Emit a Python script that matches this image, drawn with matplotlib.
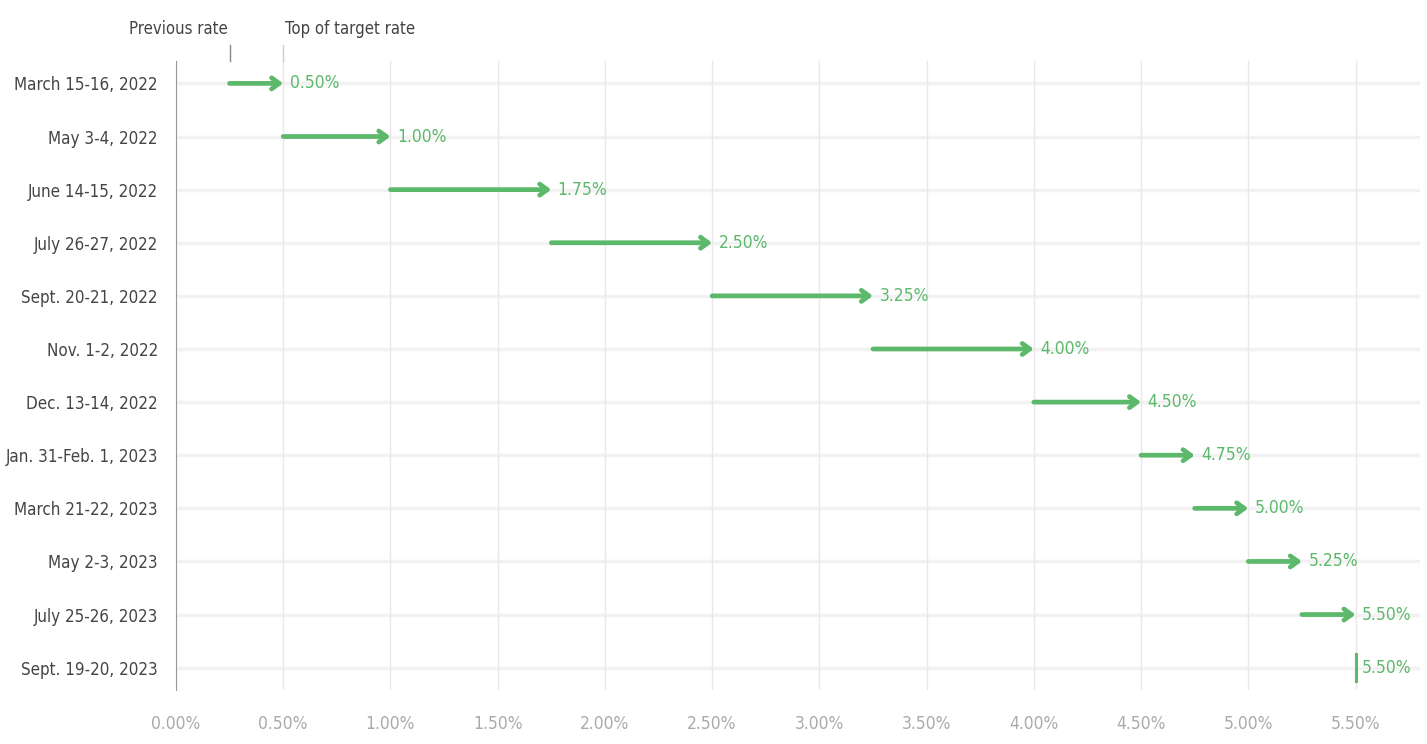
import matplotlib
matplotlib.use("Agg")
import matplotlib.pyplot as plt

# meeting dates and rate moves (top of target range, %)
meetings = ["March 15-16, 2022", "May 3-4, 2022", "June 14-15, 2022", "July 26-27, 2022",
            "Sept. 20-21, 2022", "Nov. 1-2, 2022", "Dec. 13-14, 2022", "Jan. 31-Feb. 1, 2023",
            "March 21-22, 2023", "May 2-3, 2023", "July 25-26, 2023", "Sept. 19-20, 2023"]
prev_rate = [0.25, 0.50, 1.00, 1.75, 2.50, 3.25, 4.00, 4.50, 4.75, 5.00, 5.25, 5.50]
top_rate = [0.50, 1.00, 1.75, 2.50, 3.25, 4.00, 4.50, 4.75, 5.00, 5.25, 5.50, 5.50]
xticks = [0, 0.5, 1.0, 1.5, 2.0, 2.5, 3.0, 3.5, 4.0, 4.5, 5.0, 5.5]

plt.rcParams['font.family'] = ['DejaVu Sans']
plt.rcParams['font.stretch'] = 'condensed'
green = '#5cb86a'

fig = plt.figure(figsize=(14.27, 7.44), dpi=100)
ax = fig.add_axes([0.1233, 0.0726, 0.8717, 0.846])

n = len(meetings)
for i in range(n):
    ax.axhline(i, color='#f2f2f2', lw=2.5, zorder=0)
for x in xticks:
    ax.axvline(x, color='#e8e8e8', lw=1, zorder=0)

for i, (p, t) in enumerate(zip(prev_rate, top_rate)):
    if t > p:
        ax.annotate('', xy=(t, i), xytext=(p, i),
                    arrowprops=dict(arrowstyle='->,head_length=0.55,head_width=0.4',
                                    color=green, lw=3.4, shrinkA=0, shrinkB=0))
    else:
        ax.plot([t, t], [i - 0.25, i + 0.25], color=green, lw=2.2)
    ax.text(t + 0.03, i, f"{t:.2f}%", color=green, fontsize=12.5, va='center', ha='left')

# header key
ax.plot([prev_rate[0], prev_rate[0]], [-0.72, -0.43], color='#888888', lw=1, clip_on=False)
ax.plot([top_rate[0], top_rate[0]], [-0.72, -0.43], color='#cccccc', lw=1, clip_on=False)
ax.text(prev_rate[0] - 0.01, -1.03, "Previous rate", ha='right', va='center', fontsize=12, color='#444444')
ax.text(top_rate[0] + 0.01, -1.03, "Top of target rate", ha='left', va='center', fontsize=12, color='#444444')

ax.set_xlim(0, 5.8)
ax.set_ylim(n - 1 + 0.42, -0.43)
ax.set_yticks(range(n))
ax.set_yticklabels(meetings, fontsize=12.2, color='#444444')
ax.set_xticks(xticks)
ax.set_xticklabels([f"{x:.2f}%" for x in xticks], fontsize=12.5, color='#aaaaaa')
ax.tick_params(length=0)
ax.tick_params(axis='x', pad=18)
ax.tick_params(axis='y', pad=13)
for s in ['top', 'right', 'bottom']:
    ax.spines[s].set_visible(False)
ax.spines['left'].set_color('#999999')

fig.savefig('out.png', dpi=100)
